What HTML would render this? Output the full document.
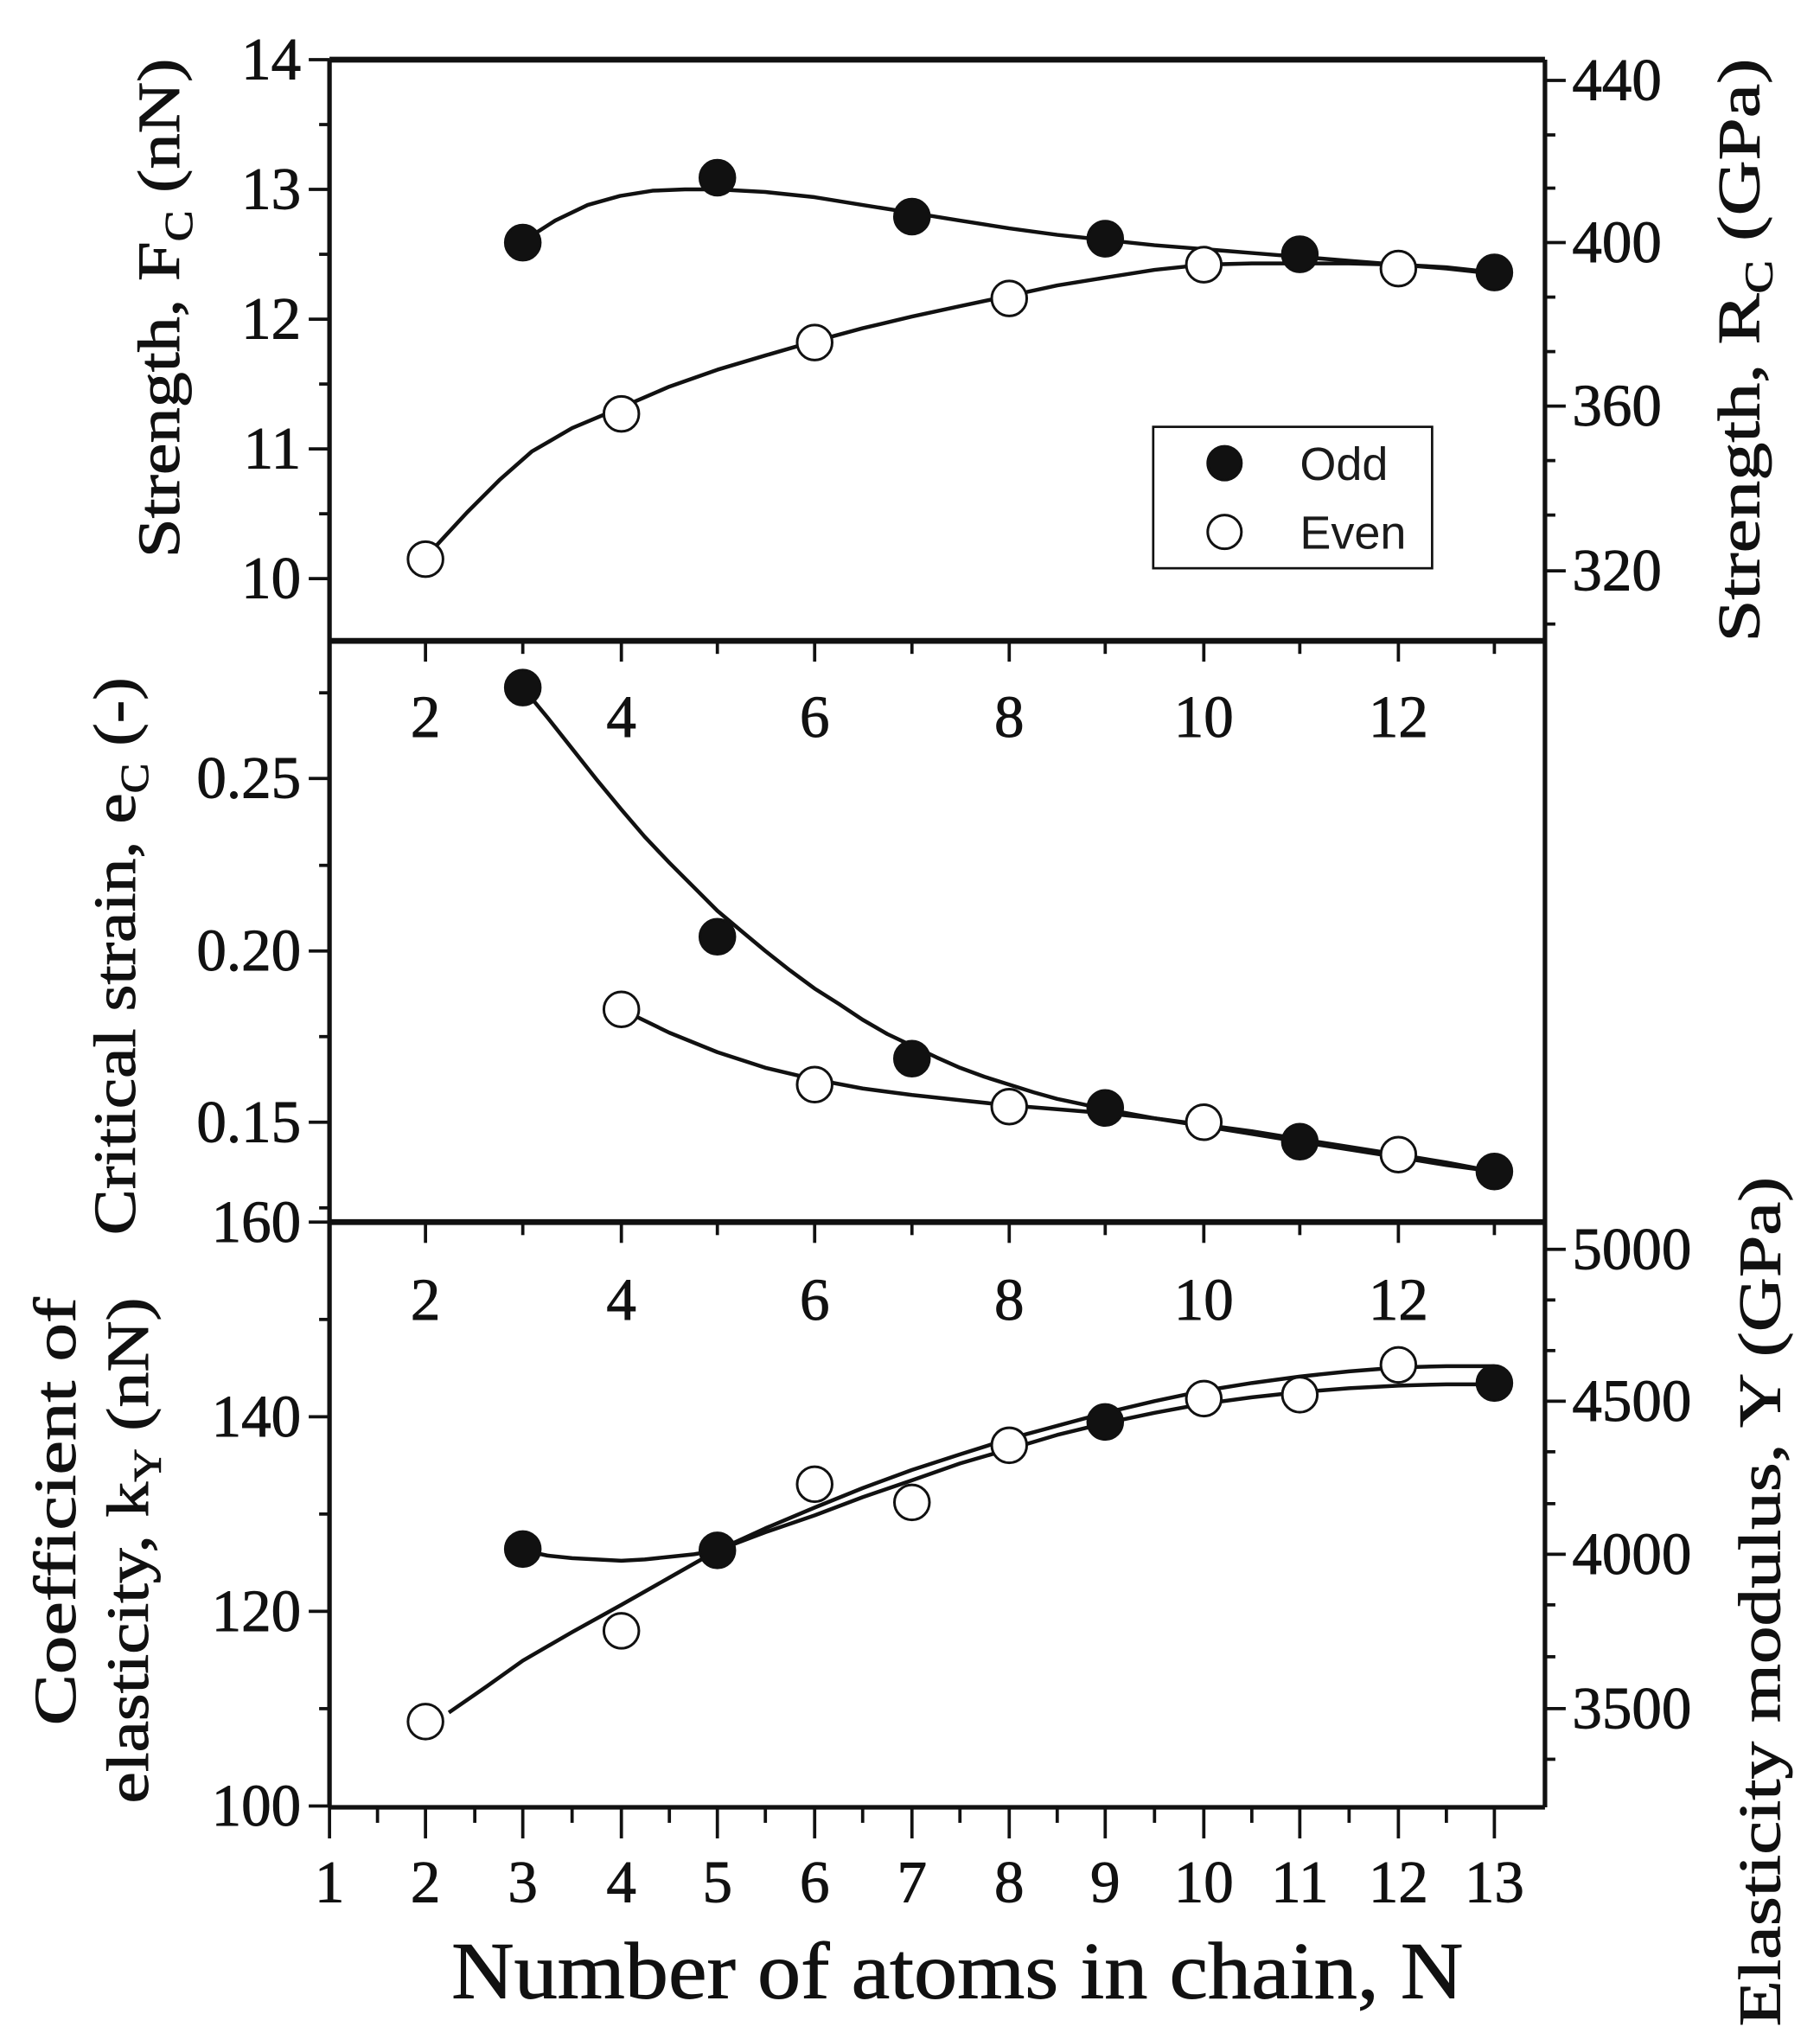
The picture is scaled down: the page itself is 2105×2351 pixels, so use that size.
<!DOCTYPE html>
<html><head><meta charset="utf-8"><style>
html,body{margin:0;padding:0;background:#fff}
svg{display:block}
.t{font-family:"Liberation Serif",serif;font-size:46px;fill:#111;stroke:#111;stroke-width:0.6}
.s{font-family:"Liberation Sans",sans-serif;font-size:36px;fill:#1a1a1a}
.c{fill:none;stroke:#111;stroke-width:3;stroke-linejoin:round}
.o{fill:#111;stroke:#111;stroke-width:2}
.e{fill:#fff;stroke:#111;stroke-width:2}
.k{stroke:#111;stroke-width:2.5}
</style></head><body>
<svg width="2105" height="2351" viewBox="0 0 1403 1567" xmlns="http://www.w3.org/2000/svg">
<rect width="1403" height="1567" fill="#fff"/>
<g fill="none" stroke="#111" stroke-width="3.5">
<line x1="254" y1="46" x2="1191" y2="46" stroke-width="4.5"/>
<line x1="254" y1="46" x2="254" y2="1393"/>
<line x1="1191" y1="46" x2="1191" y2="1393"/>
<line x1="254" y1="494" x2="1191" y2="494" stroke-width="4.5"/>
<line x1="254" y1="942" x2="1191" y2="942" stroke-width="4.5"/>
<line x1="254" y1="1393" x2="1191" y2="1393"/>
</g>
<g class="k">
<line x1="238" y1="46" x2="254" y2="46"/><line x1="238" y1="146" x2="254" y2="146"/><line x1="238" y1="246" x2="254" y2="246"/><line x1="238" y1="346" x2="254" y2="346"/><line x1="238" y1="446" x2="254" y2="446"/>
<line x1="246" y1="96" x2="254" y2="96"/><line x1="246" y1="196" x2="254" y2="196"/><line x1="246" y1="296" x2="254" y2="296"/><line x1="246" y1="396" x2="254" y2="396"/>
<line x1="1191" y1="62" x2="1207" y2="62"/><line x1="1191" y1="187" x2="1207" y2="187"/><line x1="1191" y1="313" x2="1207" y2="313"/><line x1="1191" y1="440" x2="1207" y2="440"/>
<line x1="1191" y1="104" x2="1199" y2="104"/><line x1="1191" y1="145" x2="1199" y2="145"/><line x1="1191" y1="229" x2="1199" y2="229"/><line x1="1191" y1="271" x2="1199" y2="271"/><line x1="1191" y1="355" x2="1199" y2="355"/><line x1="1191" y1="397" x2="1199" y2="397"/><line x1="1191" y1="481" x2="1199" y2="481"/>
<line x1="238" y1="600" x2="254" y2="600"/><line x1="238" y1="733" x2="254" y2="733"/><line x1="238" y1="865" x2="254" y2="865"/>
<line x1="246" y1="534" x2="254" y2="534"/><line x1="246" y1="667" x2="254" y2="667"/><line x1="246" y1="799" x2="254" y2="799"/><line x1="246" y1="931" x2="254" y2="931"/>
<line x1="238" y1="942" x2="254" y2="942"/><line x1="238" y1="1092" x2="254" y2="1092"/><line x1="238" y1="1242" x2="254" y2="1242"/><line x1="238" y1="1392" x2="254" y2="1392"/>
<line x1="246" y1="1017" x2="254" y2="1017"/><line x1="246" y1="1167" x2="254" y2="1167"/><line x1="246" y1="1317" x2="254" y2="1317"/>
<line x1="1191" y1="963" x2="1207" y2="963"/><line x1="1191" y1="1080" x2="1207" y2="1080"/><line x1="1191" y1="1198" x2="1207" y2="1198"/><line x1="1191" y1="1317" x2="1207" y2="1317"/>
<line x1="1191" y1="1002" x2="1199" y2="1002"/><line x1="1191" y1="1041" x2="1199" y2="1041"/><line x1="1191" y1="1119" x2="1199" y2="1119"/><line x1="1191" y1="1159" x2="1199" y2="1159"/><line x1="1191" y1="1237" x2="1199" y2="1237"/><line x1="1191" y1="1277" x2="1199" y2="1277"/><line x1="1191" y1="1356" x2="1199" y2="1356"/>
</g>
<g class="k">
<line x1="328" y1="494" x2="328" y2="510"/><line x1="403" y1="494" x2="403" y2="504"/><line x1="479" y1="494" x2="479" y2="510"/><line x1="553" y1="494" x2="553" y2="504"/><line x1="628" y1="494" x2="628" y2="510"/><line x1="703" y1="494" x2="703" y2="504"/><line x1="778" y1="494" x2="778" y2="510"/><line x1="852" y1="494" x2="852" y2="504"/><line x1="928" y1="494" x2="928" y2="510"/><line x1="1002" y1="494" x2="1002" y2="504"/><line x1="1078" y1="494" x2="1078" y2="510"/><line x1="1152" y1="494" x2="1152" y2="504"/>
<line x1="328" y1="942" x2="328" y2="958"/><line x1="403" y1="942" x2="403" y2="952"/><line x1="479" y1="942" x2="479" y2="958"/><line x1="553" y1="942" x2="553" y2="952"/><line x1="628" y1="942" x2="628" y2="958"/><line x1="703" y1="942" x2="703" y2="952"/><line x1="778" y1="942" x2="778" y2="958"/><line x1="852" y1="942" x2="852" y2="952"/><line x1="928" y1="942" x2="928" y2="958"/><line x1="1002" y1="942" x2="1002" y2="952"/><line x1="1078" y1="942" x2="1078" y2="958"/><line x1="1152" y1="942" x2="1152" y2="952"/>
<line x1="254" y1="1393" x2="254" y2="1417"/><line x1="328" y1="1393" x2="328" y2="1417"/><line x1="403" y1="1393" x2="403" y2="1417"/><line x1="479" y1="1393" x2="479" y2="1417"/><line x1="553" y1="1393" x2="553" y2="1417"/><line x1="628" y1="1393" x2="628" y2="1417"/><line x1="703" y1="1393" x2="703" y2="1417"/><line x1="778" y1="1393" x2="778" y2="1417"/><line x1="852" y1="1393" x2="852" y2="1417"/><line x1="928" y1="1393" x2="928" y2="1417"/><line x1="1002" y1="1393" x2="1002" y2="1417"/><line x1="1078" y1="1393" x2="1078" y2="1417"/><line x1="1152" y1="1393" x2="1152" y2="1417"/>
<line x1="291" y1="1393" x2="291" y2="1405"/><line x1="366" y1="1393" x2="366" y2="1405"/><line x1="441" y1="1393" x2="441" y2="1405"/><line x1="516" y1="1393" x2="516" y2="1405"/><line x1="590" y1="1393" x2="590" y2="1405"/><line x1="665" y1="1393" x2="665" y2="1405"/><line x1="740" y1="1393" x2="740" y2="1405"/><line x1="815" y1="1393" x2="815" y2="1405"/><line x1="890" y1="1393" x2="890" y2="1405"/><line x1="965" y1="1393" x2="965" y2="1405"/><line x1="1040" y1="1393" x2="1040" y2="1405"/><line x1="1115" y1="1393" x2="1115" y2="1405"/>
</g>
<g class="t" text-anchor="end">
<text x="232" y="61">14</text><text x="232" y="161">13</text><text x="232" y="261">12</text><text x="232" y="361">11</text><text x="232" y="461">10</text>
<text x="232" y="615">0.25</text><text x="232" y="748">0.20</text><text x="232" y="880">0.15</text><text x="232" y="957">160</text>
<text x="232" y="1107">140</text><text x="232" y="1257">120</text><text x="232" y="1407">100</text>
</g>
<g class="t" text-anchor="start">
<text x="1212" y="77">440</text><text x="1212" y="202">400</text><text x="1212" y="328">360</text><text x="1212" y="455">320</text>
<text x="1212" y="978">5000</text><text x="1212" y="1095">4500</text><text x="1212" y="1213">4000</text><text x="1212" y="1332">3500</text>
</g>
<g class="t" text-anchor="middle">
<text x="328" y="568">2</text><text x="479" y="568">4</text><text x="628" y="568">6</text><text x="778" y="568">8</text><text x="928" y="568">10</text><text x="1078" y="568">12</text>
<text x="328" y="1017">2</text><text x="479" y="1017">4</text><text x="628" y="1017">6</text><text x="778" y="1017">8</text><text x="928" y="1017">10</text><text x="1078" y="1017">12</text>
<text x="254" y="1466">1</text><text x="328" y="1466">2</text><text x="403" y="1466">3</text><text x="479" y="1466">4</text><text x="553" y="1466">5</text><text x="628" y="1466">6</text><text x="703" y="1466">7</text><text x="778" y="1466">8</text><text x="852" y="1466">9</text><text x="928" y="1466">10</text><text x="1002" y="1466">11</text><text x="1078" y="1466">12</text><text x="1152" y="1466">13</text>
</g>
<text class="t" x="348" y="1540" style="font-size:62px" textLength="780" lengthAdjust="spacingAndGlyphs">Number of atoms in chain, N</text>
<g class="t" style="font-size:46px">
<text transform="translate(138,430) rotate(-90)" textLength="385" lengthAdjust="spacingAndGlyphs">Strength, F<tspan dy="10" style="font-size:30px">C</tspan><tspan dy="-10"> (nN)</tspan></text>
<text transform="translate(104,952) rotate(-90)" textLength="430" lengthAdjust="spacingAndGlyphs">Critical  strain, e<tspan dy="10" style="font-size:30px">C</tspan><tspan dy="-10"> (-)</tspan></text>
<text transform="translate(58,1330) rotate(-90)" textLength="330" lengthAdjust="spacingAndGlyphs">Coefficient of</text>
<text transform="translate(114,1390) rotate(-90)" textLength="390" lengthAdjust="spacingAndGlyphs">elasticity, k<tspan dy="10" style="font-size:30px">Y</tspan><tspan dy="-10"> (nN)</tspan></text>
<text transform="translate(1356,495) rotate(-90)" textLength="450" lengthAdjust="spacingAndGlyphs">Strength, R<tspan dy="10" style="font-size:30px">C</tspan><tspan dy="-10">    (GPa)</tspan></text>
<text transform="translate(1372,1562) rotate(-90)" textLength="655" lengthAdjust="spacingAndGlyphs">Elasticity modulus, Y (GPa)</text>
</g>
<polyline class="c" points="403,186 428,170 453,158 478,151 503,147 528,146 553,146 590,148 628,152 665,158 703,164 740,170 778,176 815,181 852,185 890,189 928,192 965,195 1002,198 1040,201 1078,204 1115,207 1152,211"/>
<polyline class="c" points="335,422 360,395 385,370 410,348 441,330 479,314 516,298 553,285 590,274 628,263 665,253 703,244 740,236 778,228 815,220 852,214 890,208 928,204 965,203 1002,203 1040,203 1078,204 1115,206 1152,210"/>
<polyline class="c" points="403,530 422,553 441,577 460,601 479,624 497,645 516,665 535,684 553,702 572,718 590,733 609,748 628,762 647,774 665,786 684,797 703,806 722,815 740,823 759,830 778,836 797,842 815,847 834,851 852,855 890,862 928,868 965,874 1002,880 1040,886 1078,892 1115,898 1152,903"/>
<polyline class="c" points="479,778 516,796 553,811 590,823 628,832 665,839 703,844 740,848 778,852 815,855 852,858 890,862 928,867 965,872 1002,878 1040,884 1078,890 1115,896 1152,903"/>
<polyline class="c" points="403,1195 422,1199 441,1201 460,1202 479,1203 497,1202 516,1200 535,1198 553,1195 590,1181 628,1168 665,1154 703,1141 740,1128 778,1117 815,1106 852,1097 890,1089 928,1082 965,1077 1002,1073 1040,1070 1078,1068 1115,1067 1152,1067"/>
<polyline class="c" points="346,1320 375,1300 403,1280 441,1258 479,1237 516,1216 553,1195 590,1178 628,1162 665,1147 703,1133 740,1121 778,1109 815,1099 852,1089 890,1080 928,1072 965,1066 1002,1061 1040,1057 1078,1054 1115,1053 1152,1053"/>
<g class="o">
<circle cx="403" cy="187" r="13.5"/><circle cx="553" cy="137" r="13.5"/><circle cx="703" cy="167" r="13.5"/><circle cx="852" cy="184" r="13.5"/><circle cx="1002" cy="196" r="13.5"/><circle cx="1152" cy="210" r="13.5"/>
<circle cx="403" cy="530" r="13.5"/><circle cx="553" cy="722" r="13.5"/><circle cx="703" cy="816" r="13.5"/><circle cx="852" cy="854" r="13.5"/><circle cx="1002" cy="880" r="13.5"/><circle cx="1152" cy="903" r="13.5"/>
<circle cx="403" cy="1194" r="13.5"/><circle cx="553" cy="1195" r="13.5"/><circle cx="852" cy="1096" r="13.5"/><circle cx="1152" cy="1066" r="13.5"/>
</g>
<g class="e">
<circle cx="328" cy="431" r="13.5"/><circle cx="479" cy="319" r="13.5"/><circle cx="628" cy="264" r="13.5"/><circle cx="778" cy="230" r="13.5"/><circle cx="928" cy="204" r="13.5"/><circle cx="1078" cy="207" r="13.5"/>
<circle cx="479" cy="778" r="13.5"/><circle cx="628" cy="836" r="13.5"/><circle cx="778" cy="853" r="13.5"/><circle cx="928" cy="865" r="13.5"/><circle cx="1078" cy="890" r="13.5"/>
<circle cx="328" cy="1327" r="13.5"/><circle cx="479" cy="1257" r="13.5"/><circle cx="628" cy="1144" r="13.5"/><circle cx="703" cy="1158" r="13.5"/><circle cx="778" cy="1114" r="13.5"/><circle cx="928" cy="1078" r="13.5"/><circle cx="1002" cy="1075" r="13.5"/><circle cx="1078" cy="1052" r="13.5"/>
</g>
<rect x="889" y="329" width="215" height="109" fill="#fff" stroke="#111" stroke-width="1.8"/>
<circle class="o" cx="944" cy="357" r="13"/>
<circle class="e" cx="944" cy="410" r="13"/>
<text class="s" x="1002" y="370">Odd</text>
<text class="s" x="1002" y="423">Even</text>
</svg>
</body></html>
